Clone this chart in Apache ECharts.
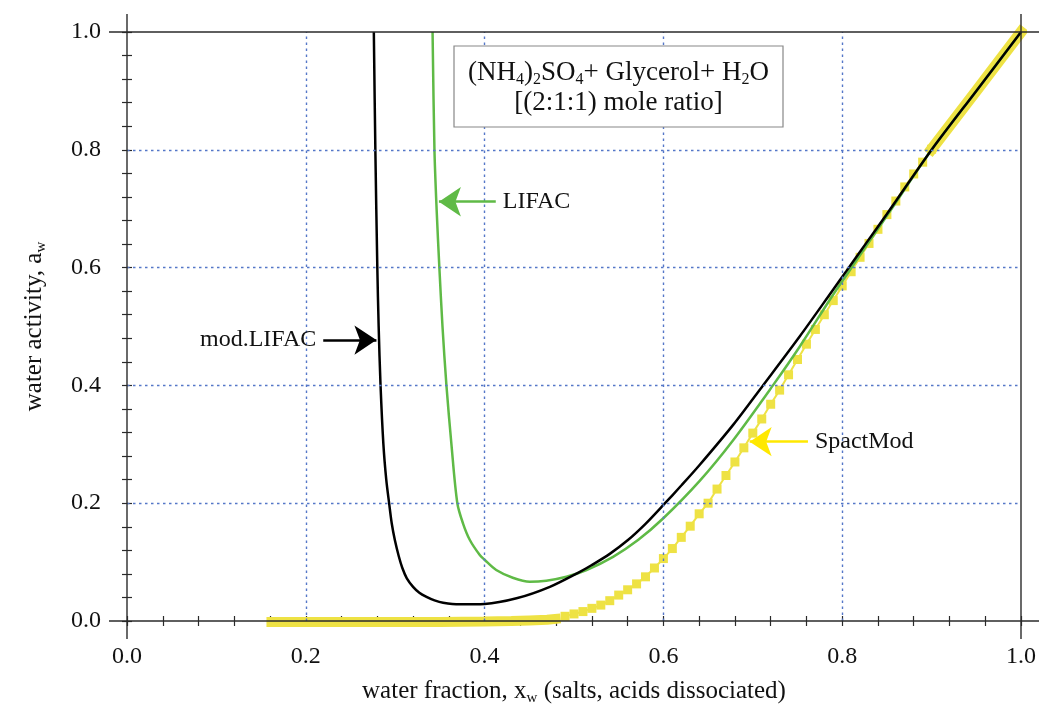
<!DOCTYPE html>
<html>
<head>
<meta charset="utf-8">
<script src="https://cdn.jsdelivr.net/npm/echarts@6/dist/echarts.min.js"></script>
<style>html,body{margin:0;padding:0;background:#fff}#c{width:1044px;height:711px}</style>
</head>
<body>
<div id="c"></div>
<script>
// ---- data ----
var modLifacX = [0.2761,0.2778,0.2800,0.2815,0.2836,0.2868,0.2900,0.2932,0.2962,0.2996,0.3040,0.3080,0.3130,0.3200,0.3270,0.3350,0.3440,0.3536,0.3720,0.4000,0.4357,0.4730,0.5060,0.5200,0.5400,0.5600,0.5800,0.6000,0.6200,0.6400,0.6780,0.7114,0.7524,0.7896,0.8046,0.8270,0.8500,0.9000,0.9500,1.0000];
var modLifacY = [1.000,0.800,0.600,0.500,0.400,0.300,0.240,0.200,0.165,0.1375,0.110,0.090,0.0725,0.058,0.048,0.041,0.035,0.031,0.0283,0.029,0.0385,0.058,0.083,0.095,0.114,0.137,0.165,0.197,0.230,0.264,0.333,0.400,0.483,0.562,0.594,0.642,0.691,0.800,0.900,1.000];

var lifacX = [0.3418,0.3439,0.3463,0.3494,0.3529,0.3573,0.3629,0.3695,0.3760,0.3835,0.3946,0.4000,0.4130,0.4315,0.4505,0.4690,0.4916,0.5140,0.5437,0.5716,0.5996,0.6406,0.6780,0.7225,0.7524,0.7896,0.8060,0.8306,0.8500,0.9000,0.9500,1.0000];
var lifacY = [1.000,0.800,0.700,0.600,0.500,0.400,0.300,0.200,0.165,0.1375,0.112,0.104,0.0866,0.0735,0.0667,0.0685,0.0752,0.0866,0.109,0.1375,0.174,0.238,0.307,0.400,0.4657,0.5535,0.590,0.645,0.688,0.800,0.900,1.000];

// SpactMod: dense (banded) low part, discrete squares, dense high part
var spactLowX = [0.156,0.20,0.25,0.30,0.35,0.40,0.43,0.45,0.47,0.485];
var spactLowY = [-0.0015,-0.0015,-0.0015,-0.0015,-0.0015,-0.001,0.0,0.001,0.002,0.0045];
var spactX = [0.49,0.50,0.51,0.52,0.53,0.54,0.55,0.56,0.57,0.58,0.59,0.60,0.61,0.62,0.63,0.64,0.65,0.66,0.67,0.68,0.69,0.70,0.71,0.72,0.73,0.74,0.75,0.76,0.77,0.78,0.79,0.80,0.81,0.82,0.83,0.84,0.85,0.86,0.87,0.88,0.89,0.90];
var spactY = [0.008,0.012,0.016,0.0215,0.027,0.0345,0.044,0.053,0.063,0.075,0.090,0.106,0.123,0.142,0.161,0.182,0.200,0.224,0.247,0.270,0.294,0.319,0.343,0.368,0.392,0.418,0.444,0.470,0.495,0.520,0.544,0.569,0.593,0.6175,0.641,0.665,0.690,0.713,0.737,0.759,0.779,0.801];
var spactHighX = [0.90,0.95,1.00];
var spactHighY = [0.801,0.900,1.000];

// annotation arrows: [label, startX, endX, y]
var annLifac = ['LIFAC', 0.4125, 0.3489, 0.7118];
var annMod = ['mod.LIFAC', 0.2195, 0.279, 0.477];
var annSpact = ['SpactMod', 0.7617, 0.6965, 0.3045];

// axis: [min, max, label step, tick step]
var xTicks = [0, 1, 0.2, 0.04];
var yTicks = [0, 1, 0.2, 0.04];
var xGridVals = [0.2, 0.4, 0.6, 0.8];
var yGridVals = [0.2, 0.4, 0.6, 0.8];

function zip(a, b) { return a.map(function (v, i) { return [v, b[i]]; }); }

var FONT = "'Liberation Serif','DejaVu Serif',serif";
var GREEN = '#5fba46';
var YELLOW = '#eee244';
var ARROWY = '#ffe800';
var GRIDC = '#5577c8';
var AXC = '#2a2a2a';

function arrowLine(ann, color) {
  return {
    silent: true,
    symbol: ['none', 'arrow'],
    symbolSize: 22,
    lineStyle: { color: color, width: 2.5, type: 'solid' },
    label: {
      show: true, position: 'start', distance: 7,
      formatter: ann[0], fontFamily: FONT, fontSize: 24, color: '#111'
    },
    data: [[{ coord: [ann[1], ann[3]] }, { coord: [ann[2], ann[3]] }]]
  };
}

var subRich = { sub: { fontSize: 15, verticalAlign: 'bottom', lineHeight: 15, fontFamily: FONT, color: '#111' } };

function labelFmt(step) {
  return function (v) {
    var k = v / step;
    return Math.abs(k - Math.round(k)) < 1e-6 ? v.toFixed(1) : '';
  };
}

function axisCommon(t, main, margin) {
  return {
    type: 'value', min: t[0], max: t[1], interval: t[3],
    axisLine: { show: false },
    axisTick: { show: true, inside: false, length: 5, lineStyle: { color: AXC, width: 1.2 } },
    axisLabel: { show: main, margin: margin, fontFamily: FONT, fontSize: 24, color: '#111',
      formatter: labelFmt(t[2]), showMinLabel: true, showMaxLabel: true, hideOverlap: false },
    splitLine: { show: false }
  };
}

function xAx(pos, main) {
  var a = axisCommon(xTicks, main, 24);
  a.position = pos;
  if (main) {
    a.name = 'water fraction, x{sub|w} (salts, acids dissociated)';
    a.nameLocation = 'middle'; a.nameGap = 55;
    a.nameTextStyle = { fontFamily: FONT, fontSize: 25, color: '#111', lineHeight: 30, rich: subRich };
  }
  return a;
}
function yAx(pos, main) {
  var a = axisCommon(yTicks, main, 26);
  a.position = pos;
  if (main) {
    a.name = 'water activity, a{sub|w}';
    a.nameLocation = 'middle'; a.nameGap = 78;
    a.nameTextStyle = { fontFamily: FONT, fontSize: 25, color: '#111', lineHeight: 30, rich: subRich };
  }
  return a;
}

var gridLineData = xGridVals.map(function (v) { return { xAxis: v }; })
  .concat(yGridVals.map(function (v) { return { yAxis: v }; }));

var chart = echarts.init(document.getElementById('c'), null, { renderer: 'canvas' });
chart.setOption({
  animation: false,
  backgroundColor: '#fff',
  grid: { left: 127, right: 23, top: 32, bottom: 90, containLabel: false },
  xAxis: [xAx('bottom', true), xAx('top', false)],
  yAxis: [yAx('left', true), yAx('right', false)],
  series: [
    { name: 'grid', type: 'line', data: [], z: 1, silent: true,
      markLine: { silent: true, symbol: 'none', label: { show: false },
        lineStyle: { color: GRIDC, width: 1.4, type: [2.5, 3.5] }, data: gridLineData } },
    { name: 'SpactMod band low', type: 'line', data: zip(spactLowX, spactLowY), showSymbol: false,
      lineStyle: { color: YELLOW, width: 10, cap: 'butt' }, z: 2, clip: false },
    { name: 'SpactMod', type: 'line', data: zip(spactX, spactY), symbol: 'rect', symbolSize: 9,
      itemStyle: { color: YELLOW }, lineStyle: { color: YELLOW, width: 2 }, z: 2, clip: false,
      markLine: arrowLine(annSpact, ARROWY) },
    { name: 'SpactMod band high', type: 'line', data: zip(spactHighX, spactHighY), showSymbol: false,
      lineStyle: { color: YELLOW, width: 11, cap: 'square' }, z: 2, clip: false },
    { name: 'LIFAC', type: 'line', data: zip(lifacX, lifacY), showSymbol: false, smooth: 0.3,
      lineStyle: { color: GREEN, width: 2.5 }, z: 3,
      markLine: arrowLine(annLifac, GREEN) },
    { name: 'mod.LIFAC', type: 'line', data: zip(modLifacX, modLifacY), showSymbol: false, smooth: 0.3,
      lineStyle: { color: '#000', width: 2.5 }, z: 4,
      markLine: arrowLine(annMod, '#000') }
  ]
});

// frame lines, extended beyond the plot box like the reference
var p0 = chart.convertToPixel({ gridIndex: 0 }, [xTicks[0], yTicks[0]]);
var p1 = chart.convertToPixel({ gridIndex: 0 }, [xTicks[1], yTicks[1]]);
var ext = 18;
var ls = { stroke: AXC, lineWidth: 1.4 };
chart.setOption({
  graphic: [
    { type: 'line', z: 100, shape: { x1: p0[0] - ext, y1: p0[1], x2: p1[0] + ext, y2: p0[1] }, style: ls },
    { type: 'line', z: 100, shape: { x1: p0[0] - ext, y1: p1[1], x2: p1[0] + ext, y2: p1[1] }, style: ls },
    { type: 'line', z: 100, shape: { x1: p0[0], y1: p1[1] - ext, x2: p0[0], y2: p0[1] + ext }, style: ls },
    { type: 'line', z: 100, shape: { x1: p1[0], y1: p1[1] - ext, x2: p1[0], y2: p0[1] + ext }, style: ls },
    { type: 'rect', z: 90, shape: { x: 454, y: 46, width: 329, height: 81 },
      style: { fill: '#fff', stroke: '#888', lineWidth: 1.2 } },
    { type: 'text', z: 91, x: 618.5, y: 88,
      style: {
        text: '(NH{s|4}){s|2}SO{s|4}+ Glycerol+ H{s|2}O\n[(2:1:1) mole ratio]',
        fontFamily: FONT, fontSize: 27, fill: '#111', lineHeight: 30,
        align: 'center', verticalAlign: 'middle',
        rich: { s: { fontSize: 16, verticalAlign: 'bottom', lineHeight: 16, fontFamily: FONT, fill: '#111' } }
      } }
  ]
});
</script>
</body>
</html>
